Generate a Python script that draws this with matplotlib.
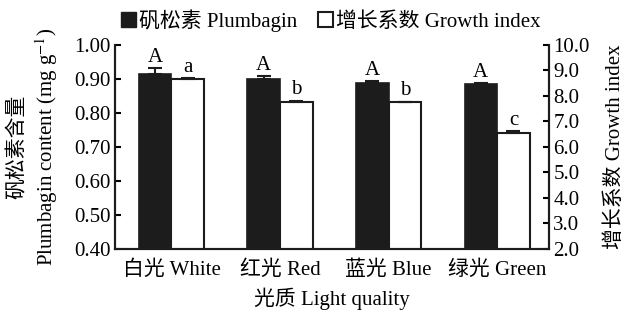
import matplotlib
matplotlib.use('Agg')
import matplotlib.pyplot as plt
from matplotlib.patches import Patch
import numpy as np

plt.rcParams['font.family'] = ['Liberation Serif', 'Noto Sans CJK SC']
plt.rcParams['mathtext.fontset'] = 'stix'

# data
groups = ['白光 White', '红光 Red', '蓝光 Blue', '绿光 Green']
plumbagin = [0.915, 0.900, 0.888, 0.885]
plumbagin_err = [0.016, 0.008, 0.006, 0.003]
plumbagin_sig = ['A', 'A', 'A', 'A']
growth = [8.67, 7.75, 7.75, 6.55]
growth_err = [0.02, 0.05, 0.02, 0.06]
growth_sig = ['a', 'b', 'b', 'c']

x = np.arange(len(groups))
w = 0.30
dark = '#1c1c1c'
fs = 15

fig = plt.figure(figsize=(6.32, 3.16), dpi=100)
ax = fig.add_axes([0.182, 0.212, 0.687, 0.646])
ax2 = ax.twinx()

ax.bar(x - w / 2, [v - 0.4 for v in plumbagin], w, bottom=0.4, color=dark,
       edgecolor=dark, linewidth=1.2, zorder=2)
ax.errorbar(x - w / 2, plumbagin, yerr=[np.zeros(4), plumbagin_err], fmt='none',
            ecolor=dark, elinewidth=1.5, capsize=5, capthick=1.5, zorder=3)
ax2.bar(x + w / 2, [v - 2.0 for v in growth], w, bottom=2.0, color='white',
        edgecolor=dark, linewidth=1.5, zorder=2)
ax2.errorbar(x + w / 2, growth, yerr=[np.zeros(4), growth_err], fmt='none',
             ecolor=dark, elinewidth=1.5, capsize=5, capthick=1.5, zorder=3)

for i in range(len(groups)):
    ax.text(x[i] - w / 2, plumbagin[i] + plumbagin_err[i] + 0.003, plumbagin_sig[i],
            ha='center', va='bottom', fontsize=fs)
    ax2.text(x[i] + w / 2, growth[i] + growth_err[i] + 0.06, growth_sig[i],
             ha='center', va='bottom', fontsize=fs)

ax.set_xlim(-0.52, 3.48)
ax.set_ylim(0.4, 1.0)
ax2.set_ylim(2.0, 10.0)
ax.set_yticks(np.arange(0.4, 1.001, 0.1))
ax.set_yticklabels(['%.2f' % v for v in np.arange(0.4, 1.001, 0.1)], fontsize=fs)
ax2.set_yticks(np.arange(2, 10.01, 1))
ax2.set_yticklabels(['%.1f' % v for v in np.arange(2, 10.01, 1)], fontsize=fs)
ax.set_xticks(x)
ax.set_xticklabels(groups, fontsize=fs)
ax.tick_params(axis='x', length=0, pad=8)
ax.tick_params(axis='y', direction='in', length=4, width=1.5, pad=3)
ax2.tick_params(axis='y', direction='in', length=4, width=1.5, pad=3)

for a in (ax, ax2):
    a.spines['top'].set_visible(False)
    for s in ('left', 'right', 'bottom'):
        a.spines[s].set_linewidth(1.5)
        a.spines[s].set_color(dark)

ax.set_xlabel('光质 Light quality', fontsize=fs, labelpad=6)
ax.set_ylabel('矾松素含量\nPlumbagin content (mg g$^{-1}$)', fontsize=fs,
              labelpad=10, linespacing=1.3)
ax2.set_ylabel('增长系数 Growth index', fontsize=fs, labelpad=11)

handles = [Patch(facecolor=dark, edgecolor=dark), Patch(facecolor='white', edgecolor=dark, linewidth=1.5)]
fig.legend(handles, ['矾松素 Plumbagin', '增长系数 Growth index'], loc='upper left',
           bbox_to_anchor=(0.162, 1.03), ncol=2, frameon=False, fontsize=fs,
           handlelength=0.7, handleheight=0.7, handletextpad=0.15, columnspacing=1.0)

fig.savefig('out.png', dpi=100)
